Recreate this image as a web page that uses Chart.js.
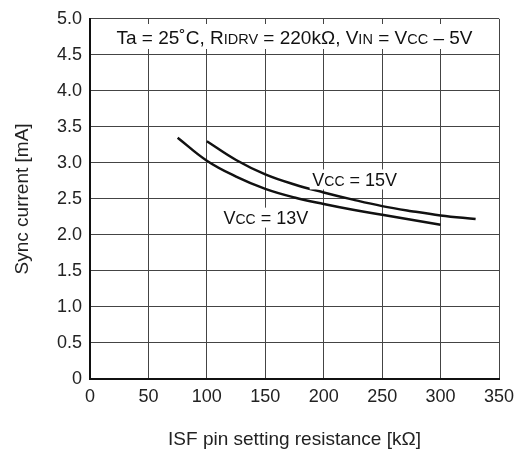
<!DOCTYPE html>
<html>
<head>
<meta charset="utf-8">
<script src="https://cdn.jsdelivr.net/npm/chart.js@4/dist/chart.umd.min.js"></script>
<style>
  html, body { margin: 0; padding: 0; background: #fff; }
  #wrap { width: 523px; height: 457px; }
</style>
</head>
<body>
<div id="wrap"><canvas id="c" width="523" height="457"></canvas></div>
<script>
// values
const x13 = [75, 100, 125, 150, 175, 200, 225, 250, 275, 300];
const y13 = [3.35, 3.03, 2.81, 2.64, 2.52, 2.43, 2.35, 2.28, 2.21, 2.14];
const x15 = [100, 125, 150, 175, 200, 225, 250, 275, 300, 330];
const y15 = [3.30, 3.04, 2.84, 2.70, 2.59, 2.49, 2.40, 2.33, 2.27, 2.22];
const xTicks = [0, 50, 100, 150, 200, 250, 300, 350];
const yTicks = [0, 0.5, 1.0, 1.5, 2.0, 2.5, 3.0, 3.5, 4.0, 4.5, 5.0];

const FONT = 'Liberation Sans, Arial, sans-serif';

function pts(xs, ys) {
  return xs.map((x, i) => ({ x: x, y: ys[i] }));
}

// text with small-caps subscripts, e.g. R + IDRV
function drawRich(ctx, parts, cx, cy, big, small) {
  let w = 0;
  parts.forEach(p => {
    ctx.font = (p.s ? small : big) + 'px ' + FONT;
    p.w = ctx.measureText(p.t).width;
    w += p.w;
  });
  let x = cx - w / 2;
  ctx.textAlign = 'left';
  ctx.textBaseline = 'alphabetic';
  ctx.fillStyle = '#111';
  parts.forEach(p => {
    ctx.font = (p.s ? small : big) + 'px ' + FONT;
    ctx.fillText(p.t, x, cy + big * 0.36);
    x += p.w;
  });
  return w;
}

const notes = {
  id: 'notes',
  afterDatasetsDraw(chart) {
    const ctx = chart.ctx;
    const a = chart.chartArea;
    const xs = chart.scales.x, ys = chart.scales.y;
    ctx.save();
    // header condition text
    const head = [
      { t: 'Ta = 25˚C, R' }, { t: 'IDRV', s: 1 }, { t: ' = 220kΩ, V' },
      { t: 'IN', s: 1 }, { t: ' = V' }, { t: 'CC', s: 1 }, { t: ' – 5V' }
    ];
    ctx.fillStyle = '#fff';
    ctx.fillRect(a.left + 2, 24, a.right - a.left - 4, 25);
    drawRich(ctx, head, (a.left + a.right) / 2, 37, 19, 14.5);

    const lab = [
      { x: 226.5, y: 2.77, parts: [{ t: 'V' }, { t: 'CC', s: 1 }, { t: ' = 15V' }] },
      { x: 150.5, y: 2.24, parts: [{ t: 'V' }, { t: 'CC', s: 1 }, { t: ' = 13V' }] }
    ];
    lab.forEach(l => {
      const px = xs.getPixelForValue(l.x), py = ys.getPixelForValue(l.y);
      ctx.fillStyle = '#fff';
      ctx.fillRect(px - 45, py - 10, 90, 20);
      drawRich(ctx, l.parts, px, py, 18, 14);
    });
    ctx.restore();
  }
};

new Chart(document.getElementById('c'), {
  type: 'scatter',
  data: {
    datasets: [
      { label: 'VCC = 13V', data: pts(x13, y13) },
      { label: 'VCC = 15V', data: pts(x15, y15) }
    ]
  },
  options: {
    responsive: false,
    animation: false,
    showLine: true,
    layout: { padding: { top: 18, right: 24, bottom: 0, left: 0 } },
    elements: {
      line: { borderColor: '#111', borderWidth: 2.5, tension: 0.4, fill: false },
      point: { radius: 0, hoverRadius: 0 }
    },
    plugins: {
      legend: { display: false },
      tooltip: { enabled: false }
    },
    scales: {
      x: {
        type: 'linear',
        min: 0, max: 350,
        afterBuildTicks: s => { s.ticks = xTicks.map(v => ({ value: v })); },
        afterFit: s => { s.height = 78; },
        ticks: { color: '#222', font: { family: FONT, size: 18 }, padding: 7, maxRotation: 0 },
        grid: { color: '#444', lineWidth: 1, drawTicks: false },
        border: { color: '#111', width: 2 },
        title: {
          display: true, text: 'ISF pin setting resistance [kΩ]', color: '#222',
          font: { family: FONT, size: 19 }, padding: { top: 0, bottom: 6 }
        }
      },
      y: {
        type: 'linear',
        min: 0, max: 5,
        afterBuildTicks: s => { s.ticks = yTicks.map(v => ({ value: v })); },
        afterFit: s => { s.width = 90; },
        ticks: {
          color: '#222', font: { family: FONT, size: 18 }, padding: 8,
          callback: v => (v === 0 ? '0' : v.toFixed(1))
        },
        grid: { color: '#444', lineWidth: 1, drawTicks: false },
        border: { color: '#111', width: 2 },
        title: {
          display: true, text: 'Sync current [mA]', color: '#222',
          font: { family: FONT, size: 19 }, padding: { top: 11, bottom: 0 }
        }
      }
    }
  },
  plugins: [notes]
});
</script>
</body>
</html>
